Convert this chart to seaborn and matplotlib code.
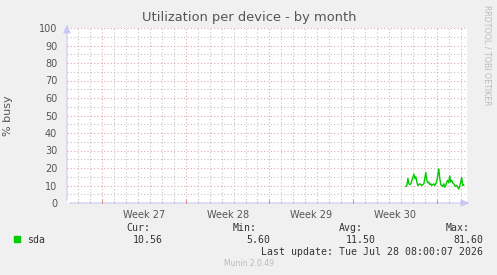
import matplotlib
matplotlib.use("Agg")
import matplotlib.pyplot as plt
import seaborn as sns
import numpy as np
import pandas as pd

# ---- data ----
title = "Utilization per device - by month"
ylabel = "% busy"
week_labels = ["Week 27", "Week 28", "Week 29", "Week 30"]
series_name = "sda"
# 2-hour averaged samples (percent busy) at the end of the month window
sda_values = [9.5, 10, 14, 11, 10.5, 11, 13, 14.5, 16.5, 14, 15, 12, 10, 10.5, 11,
              10.5, 10, 10.5, 11, 14, 17.5, 13, 11.5, 12, 10.5, 11, 10, 10.5, 11, 10,
              11, 12.5, 16, 19.5, 14, 10.5, 10, 9.5, 11, 9, 10, 12, 13, 11.5, 15.5,
              12, 13, 11.5, 11, 10, 9.5, 10, 9, 8, 9.5, 12, 14.5, 10, 10.5]
data_start_day = 28.34      # day offset of first sample within window
sample_step_hours = 2.0
window_days = 33.45
first_week_boundary = 2.93
stats_labels = ["Cur:", "Min:", "Avg:", "Max:"]
stats_values = ["10.56", "5.60", "11.50", "81.60"]
last_update = "Last update: Tue Jul 28 08:00:07 2026"
footer = "Munin 2.0.49"
side_text = "RRDTOOL / TOBI OETIKER"

# ---- build frame ----
t = data_start_day + np.arange(len(sda_values)) * sample_step_hours / 24.0
df = pd.DataFrame({"day": t, "busy": sda_values})

BG = "#F0F0F0"
TXT = "#555555"
MAJ = "#E2A8A8"
MIN = "#C4C4C4"
AX = "#C8C8F4"
GREEN = "#00CC00"

W, H = 497, 275
fig = plt.figure(figsize=(W / 100, H / 100), dpi=100, facecolor=BG)
ax = fig.add_axes([67 / W, 1 - 203 / H, 400 / W, 175 / H])
ax.set_facecolor("white")
ax.set_xlim(0, window_days)
ax.set_ylim(0, 100)

# grid
days = np.arange(0, window_days + 0.01, 1.0) + (first_week_boundary % 1.0)
weeks = np.arange(first_week_boundary, window_days, 7.0)
for d in days:
    if d < window_days and not np.any(np.isclose(d, weeks)):
        ax.axvline(d, color=MIN, lw=0.8, ls=(0, (1, 2)), zorder=1)
for v in range(5, 100, 10):
    ax.axhline(v, color=MIN, lw=0.8, ls=(0, (1, 2)), zorder=1)
for w in weeks:
    ax.axvline(w, color=MAJ, lw=0.8, ls=(0, (1, 2)), zorder=1.2)
for v in range(10, 101, 10):
    ax.axhline(v, color=MAJ, lw=0.8, ls=(0, (1, 2)), zorder=1.2)

sns.lineplot(data=df, x="day", y="busy", ax=ax, color=GREEN, lw=1.0, zorder=3, legend=False)

for s in ax.spines.values():
    s.set_visible(False)
ax.set_xlabel("")
ax.set_ylabel(ylabel, fontsize=8, color=TXT, labelpad=10)
ax.yaxis.set_label_coords(-0.135, 0.5)
ax.set_yticks(range(0, 101, 10))
ax.set_yticklabels([str(v) for v in range(0, 101, 10)])
ax.tick_params(axis="y", length=0, pad=7, labelsize=7, labelcolor=TXT)
centers = weeks[:-1] + 3.5
ax.set_xticks(centers)
ax.set_xticklabels(week_labels)
ax.tick_params(axis="x", length=0, pad=5, labelsize=7, labelcolor=TXT)

# axes lines with arrows
ax.annotate("", xy=(1.013, 0), xytext=(0, 0), xycoords="axes fraction",
            arrowprops=dict(arrowstyle="-|>,head_length=0.5,head_width=0.22", color=AX, lw=0.8),
            annotation_clip=False, zorder=4)
ax.annotate("", xy=(0, 1.035), xytext=(0, 0), xycoords="axes fraction",
            arrowprops=dict(arrowstyle="-|>,head_length=0.5,head_width=0.22", color=AX, lw=0.8),
            annotation_clip=False, zorder=4)
# small tick marks on axes
for d in days:
    if d < window_days:
        ax.plot([d, d], [0, 1.2], color="#BBBBBB", lw=0.5, clip_on=False, zorder=4)
for w in weeks:
    ax.plot([w, w], [0, 1.6], color="#E08080", lw=0.6, clip_on=False, zorder=4)

# title and texts
fig.text(249 / W, 1 - 18 / H, title, ha="center", va="center", fontsize=9.4, color=TXT)
fig.text(487 / W, 1 - 5 / H, side_text, ha="center", va="top", rotation=-90,
         fontsize=5.7, color="#BBBBBB")

mono = "DejaVu Sans Mono"
fig.patches.append(plt.Rectangle((14 / W, 1 - 242 / H), 6 / W, 6 / H, transform=fig.transFigure,
                                 color=GREEN, figure=fig))
fig.text(27 / W, 1 - 240 / H, series_name, ha="left", va="center", fontsize=7.1,
         family=mono, color="#333333")
label_right = [150, 257, 363, 470]
value_right = [163, 270, 376, 483]
for lab, xr in zip(stats_labels, label_right):
    fig.text(xr / W, 1 - 228 / H, lab, ha="right", va="center", fontsize=7.1,
             family=mono, color="#333333")
for val, xr in zip(stats_values, value_right):
    fig.text(xr / W, 1 - 240 / H, val, ha="right", va="center", fontsize=7.1,
             family=mono, color="#333333")
fig.text(483 / W, 1 - 252 / H, last_update, ha="right", va="center", fontsize=7.1,
         family=mono, color="#333333")
fig.text(249 / W, 1 - 264 / H, footer, ha="center", va="center", fontsize=5.5, color="#BBBBBB")

fig.savefig("out.png", dpi=100, facecolor=BG)
